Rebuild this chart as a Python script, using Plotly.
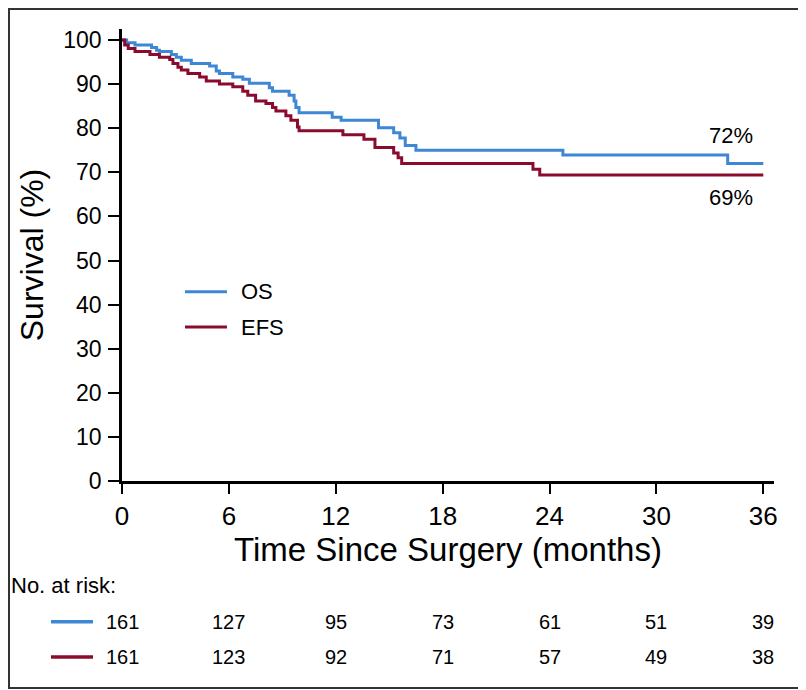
import plotly.graph_objects as go

# Kaplan-Meier estimates (months, % surviving)
os_time = [0, 0.26, 0.73, 1.66, 1.94, 2.1, 2.77, 3.05, 3.33, 3.89, 4.92, 5.29, 5.47,
           6.22, 6.78, 7.15, 8.27, 8.45, 9.38, 9.66, 9.76, 9.94, 11.8, 12.3, 14.4,
           15.25, 15.6, 15.9, 16.5, 24.75, 34.0, 36.0]
os_surv = [100, 99.4, 98.9, 98.3, 97.7, 97.4, 96.7, 96.1, 95.4, 94.7, 94.1, 93.0, 92.4,
           91.6, 91.1, 90.2, 89.2, 88.4, 87.5, 86.2, 84.7, 83.5, 82.5, 81.8, 80.1,
           79.0, 77.8, 76.1, 75.0, 73.9, 72.0, 72.0]

efs_time = [0, 0.15, 0.35, 0.73, 1.57, 2.1, 2.68, 2.86, 3.14, 3.33, 3.7, 4.36, 4.73,
            5.47, 6.22, 6.78, 7.06, 7.5, 8.08, 8.45, 8.64, 9.2, 9.48, 9.85, 9.94,
            12.4, 13.58, 14.2, 15.25, 15.5, 15.7, 23.07, 23.45, 36.0]
efs_surv = [100, 98.9, 98.1, 97.4, 96.7, 96.1, 95.6, 94.7, 93.8, 93.2, 92.4, 91.6, 90.7,
            90.0, 89.4, 88.4, 87.5, 86.2, 85.6, 84.7, 83.9, 82.8, 81.8, 80.3, 79.4,
            78.5, 77.5, 75.6, 74.4, 73.3, 72.0, 70.7, 69.4, 69.4]

risk_times = [0, 6, 12, 18, 24, 30, 36]
os_risk = [161, 127, 95, 73, 61, 51, 39]
efs_risk = [161, 123, 92, 71, 57, 49, 38]

x_ticks = [0, 6, 12, 18, 24, 30, 36]
y_ticks = [0, 10, 20, 30, 40, 50, 60, 70, 80, 90, 100]

OS_COLOR = "#3e87d5"
EFS_COLOR = "#8b0b2f"
FONT = "Liberation Sans, Arial, sans-serif"

fig = go.Figure()
fig.add_trace(go.Scatter(x=os_time, y=os_surv, name="OS", mode="lines",
                         line=dict(color=OS_COLOR, width=3, shape="hv"), showlegend=False))
fig.add_trace(go.Scatter(x=efs_time, y=efs_surv, name="EFS", mode="lines",
                         line=dict(color=EFS_COLOR, width=3, shape="hv"), showlegend=False))

fig.update_xaxes(
    range=[0, 36.6], tickvals=x_ticks, ticks="outside", ticklen=10, tickwidth=1.5,
    tickcolor="black", showline=True, linewidth=2.5, linecolor="black",
    showgrid=False, zeroline=False, automargin=False,
    tickfont=dict(family=FONT, size=26, color="black"), ticklabelstandoff=0,
    title=dict(text="Time Since Surgery (months)", standoff=5,
               font=dict(family=FONT, size=33, color="black")),
)
fig.update_yaxes(
    range=[0, 102.5], tickvals=y_ticks, ticks="outside", ticklen=11, tickwidth=1.5,
    tickcolor="black", showline=True, linewidth=2.5, linecolor="black",
    showgrid=False, zeroline=False, automargin=False,
    tickfont=dict(family=FONT, size=23, color="black"), ticklabelstandoff=2,
    title=dict(text="Survival (%)", standoff=11,
               font=dict(family=FONT, size=32, color="black")),
)

# final-estimate labels
fig.add_annotation(x=34.2, y=78.3, text="72%", showarrow=False,
                   font=dict(family=FONT, size=22, color="black"))
fig.add_annotation(x=34.2, y=64.3, text="69%", showarrow=False,
                   font=dict(family=FONT, size=22, color="black"))

# legend inside plot
for name, color, yp in (("OS", OS_COLOR, 0.4188), ("EFS", EFS_COLOR, 0.3407)):
    fig.add_shape(type="line", xref="paper", yref="paper", x0=0.0966, x1=0.161,
                  y0=yp, y1=yp, line=dict(color=color, width=3))
    fig.add_annotation(xref="paper", yref="paper", x=0.1794, y=yp, text=name,
                       xanchor="left", yanchor="middle", showarrow=False,
                       font=dict(family=FONT, size=22, color="black"))

# number at risk table
fig.add_annotation(xref="paper", yref="paper", x=-0.1735, y=-0.2323, text="No. at risk:",
                   xanchor="left", yanchor="middle", showarrow=False,
                   font=dict(family=FONT, size=22, color="black"))
for counts, color, yp in ((os_risk, OS_COLOR, -0.3113), (efs_risk, EFS_COLOR, -0.3894)):
    fig.add_shape(type="line", xref="paper", yref="paper", x0=-0.1089, x1=-0.0445,
                  y0=yp, y1=yp, line=dict(color=color, width=3.5))
    for t, n in zip(risk_times, counts):
        fig.add_annotation(x=t, xref="x", yref="paper", y=yp, text=str(n),
                           xanchor="center", yanchor="middle", showarrow=False,
                           font=dict(family=FONT, size=20, color="black"))

# outer frame
fig.add_shape(type="rect", xref="paper", yref="paper", x0=-0.1733, x1=1.043,
              y0=-0.458, y1=1.044, line=dict(color="#333333", width=2))

# the page body adds an 8px offset, so the figure is 8px smaller each way
fig.update_layout(
    width=798, height=682,
    margin=dict(l=114, r=32, t=21, b=209),
    plot_bgcolor="white", paper_bgcolor="white",
    showlegend=False,
)
fig.write_html("out.html")
